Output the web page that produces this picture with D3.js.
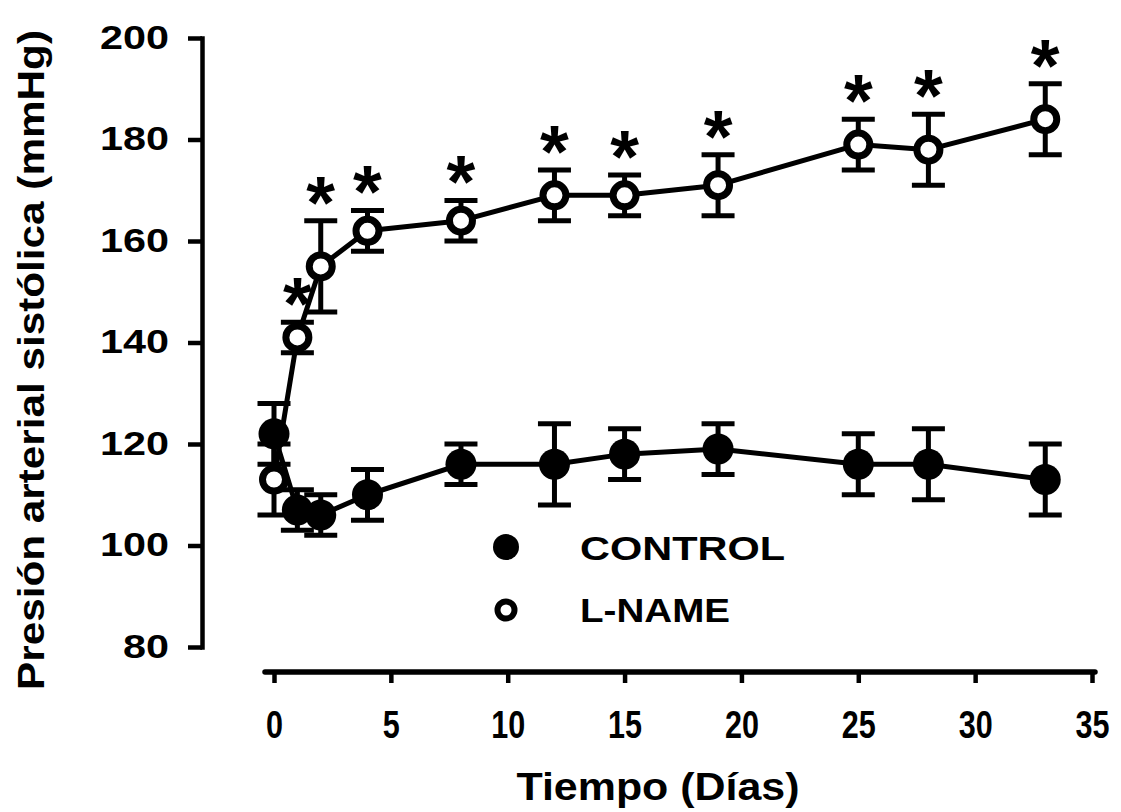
<!DOCTYPE html>
<html>
<head>
<meta charset="utf-8">
<script src="https://cdn.jsdelivr.net/npm/d3@7/dist/d3.min.js"></script>
<style>
  html, body { margin: 0; padding: 0; background: #fff; }
  svg { display: block; }
  text { font-family: "Liberation Sans", Arial, sans-serif; font-weight: bold; fill: #000; }
</style>
</head>
<body>
<svg id="chart" width="1121" height="812"></svg>
<script>
// ---- data ----
const days        = [0, 1, 2, 4, 8, 12, 15, 19, 25, 28, 33];
const controlMean = [122, 107, 106, 110, 116, 116, 118, 119, 116, 116, 113];
const controlErr  = [6, 4, 4, 5, 4, 8, 5, 5, 6, 7, 7];
const lnameMean   = [113, 141, 155, 162, 164, 169, 169, 171, 179, 178, 184];
const lnameErr    = [7, 3, 9, 4, 4, 5, 4, 6, 5, 7, 7];
const lnameSig    = [false, true, true, true, true, true, true, true, true, true, true];
const xTicks      = [0, 5, 10, 15, 20, 25, 30, 35];
const yTicks      = [80, 100, 120, 140, 160, 180, 200];
const seriesNames = ["CONTROL", "L-NAME"];
const xTitle = "Tiempo (Días)";
const yTitle = "Presión arterial sistólica (mmHg)";

// ---- layout ----
const svg = d3.select("#chart");
const x = d3.scaleLinear().domain([0, 35]).range([274, 1092]);
const y = d3.scaleLinear().domain([80, 200]).range([647, 38]);
const axisX0 = 202, axisY0 = 672;

// Y axis
const gy = svg.append("g").attr("transform", `translate(${axisX0},0)`)
  .call(d3.axisLeft(y).tickValues(yTicks).tickSize(14).tickSizeOuter(0).tickFormat(d3.format("d")));
gy.select(".domain").attr("stroke", "#000").attr("stroke-width", 4.5).attr("stroke-linecap", "square");
gy.selectAll(".tick line").attr("stroke", "#000").attr("stroke-width", 4.5);
gy.selectAll(".tick text")
  .attr("x", -33).attr("dy", 0).attr("y", 10)
  .attr("font-size", 34)
  .attr("textLength", d => String(d).length * 23)
  .attr("lengthAdjust", "spacingAndGlyphs")
  .attr("fill", "#000");

// X axis
const gx = svg.append("g").attr("transform", `translate(0,${axisY0})`)
  .call(d3.axisBottom(x).tickValues(xTicks).tickSize(11).tickSizeOuter(0).tickFormat(d3.format("d")));
gx.select(".domain").attr("d", `M${x(0) - 9},0H${x(35) + 3}`)
  .attr("stroke", "#000").attr("stroke-width", 5.5).attr("stroke-linecap", "round");
gx.selectAll(".tick line").attr("stroke", "#000").attr("stroke-width", 4.5);
gx.selectAll(".tick text")
  .attr("y", 66).attr("dy", 0)
  .attr("font-size", 38)
  .attr("textLength", d => String(d).length * 17)
  .attr("lengthAdjust", "spacingAndGlyphs")
  .attr("fill", "#000");
svg.selectAll("g").attr("font-family", null);

// Titles
svg.append("text")
  .attr("x", 658).attr("y", 800)
  .attr("text-anchor", "middle")
  .attr("font-size", 38)
  .attr("textLength", 283).attr("lengthAdjust", "spacingAndGlyphs")
  .text(xTitle);
svg.append("text")
  .attr("transform", "translate(44,360) rotate(-90)")
  .attr("text-anchor", "middle")
  .attr("font-size", 37)
  .attr("textLength", 660).attr("lengthAdjust", "spacingAndGlyphs")
  .text(yTitle);

// series data
const ctrl = days.map((d, i) => ({ d, m: controlMean[i], e: controlErr[i] }));
const lnam = days.map((d, i) => ({ d, m: lnameMean[i], e: lnameErr[i], s: lnameSig[i] }));

const line = d3.line().x(p => x(p.d)).y(p => y(p.m));
const capHalf = 16.5;

function errorBars(data) {
  const g = svg.append("g").attr("stroke", "#000").attr("stroke-width", 5);
  g.selectAll("line.v").data(data).join("line").attr("class", "v")
    .attr("x1", p => x(p.d)).attr("x2", p => x(p.d))
    .attr("y1", p => y(p.m - p.e)).attr("y2", p => y(p.m + p.e));
  g.selectAll("line.t").data(data).join("line").attr("class", "t")
    .attr("x1", p => x(p.d) - capHalf).attr("x2", p => x(p.d) + capHalf)
    .attr("y1", p => y(p.m + p.e)).attr("y2", p => y(p.m + p.e));
  g.selectAll("line.b").data(data).join("line").attr("class", "b")
    .attr("x1", p => x(p.d) - capHalf).attr("x2", p => x(p.d) + capHalf)
    .attr("y1", p => y(p.m - p.e)).attr("y2", p => y(p.m - p.e));
}
errorBars(ctrl);
errorBars(lnam);

svg.append("path").datum(ctrl).attr("d", line)
  .attr("fill", "none").attr("stroke", "#000").attr("stroke-width", 5).attr("stroke-linejoin", "round");
svg.append("path").datum(lnam).attr("d", line)
  .attr("fill", "none").attr("stroke", "#000").attr("stroke-width", 5).attr("stroke-linejoin", "round");

svg.append("g").selectAll("circle").data(ctrl).join("circle")
  .attr("cx", p => x(p.d)).attr("cy", p => y(p.m)).attr("r", 15.5).attr("fill", "#000");
svg.append("g").selectAll("circle").data(lnam).join("circle")
  .attr("cx", p => x(p.d)).attr("cy", p => y(p.m)).attr("r", 11.5)
  .attr("fill", "#fff").attr("stroke", "#000").attr("stroke-width", 7);

// significance asterisks
const starSize = 74;
svg.append("g").selectAll("text").data(lnam.filter(p => p.s)).join("text")
  .attr("x", p => x(p.d)).attr("y", p => y(p.m + p.e) - 36 + 0.58 * starSize)
  .attr("text-anchor", "middle")
  .attr("font-size", starSize)
  .text("*");

// legend
const leg = svg.append("g");
leg.append("circle").attr("cx", 506).attr("cy", 547).attr("r", 13).attr("fill", "#000");
leg.append("circle").attr("cx", 506).attr("cy", 610).attr("r", 8.5).attr("fill", "#fff")
  .attr("stroke", "#000").attr("stroke-width", 6);
leg.append("text").attr("x", 580).attr("y", 560).attr("font-size", 34)
  .attr("textLength", 205).attr("lengthAdjust", "spacingAndGlyphs").text(seriesNames[0]);
leg.append("text").attr("x", 580).attr("y", 622).attr("font-size", 34)
  .attr("textLength", 150).attr("lengthAdjust", "spacingAndGlyphs").text(seriesNames[1]);
</script>
</body>
</html>
